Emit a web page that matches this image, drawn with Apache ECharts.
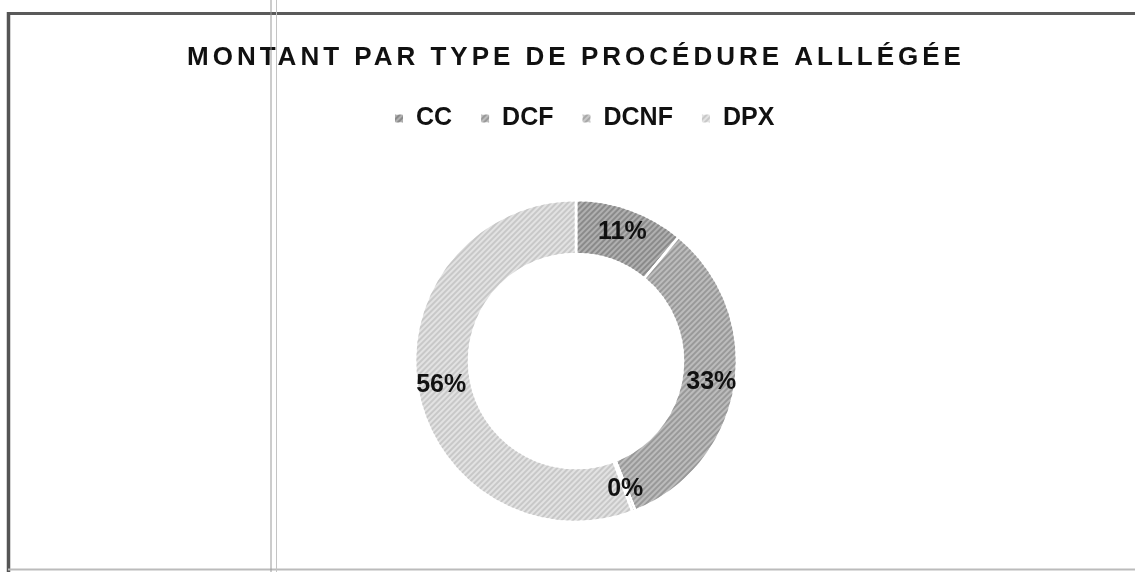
<!DOCTYPE html>
<html>
<head>
<meta charset="utf-8">
<script src="https://cdn.jsdelivr.net/npm/echarts@6/dist/echarts.min.js"></script>
<style>
html,body{margin:0;padding:0;background:#fff;}
#chart{width:1135px;height:572px;}
</style>
</head>
<body>
<div id="chart"></div>
<script>
const TITLE = 'MONTANT PAR TYPE DE PROCÉDURE ALLLÉGÉE';
const categories = ['CC', 'DCF', 'DCNF', 'DPX'];
const values = [11, 33, 0.3, 55.7];
const baseColors = ['#b0b0b0', '#bcbcbc', '#c8c8c8', '#e2e2e2'];
const stripeColors = ['#8a8a8a', '#999999', '#a8a8a8', '#c8c8c8'];

// letter spacing for the title (canvas letterSpacing)
const TITLE_LS = 4;
const origFill = CanvasRenderingContext2D.prototype.fillText;
CanvasRenderingContext2D.prototype.fillText = function (t, x, y, w) {
  if (t === TITLE) {
    this.save();
    this.letterSpacing = TITLE_LS + 'px';
    origFill.call(this, t, x, y);
    this.restore();
  } else {
    if (w === undefined) origFill.call(this, t, x, y); else origFill.call(this, t, x, y, w);
  }
};

const FONT = "'Liberation Sans', Arial, sans-serif";
const chart = echarts.init(document.getElementById('chart'), null, {renderer: 'canvas'});

const data = categories.map((c, i) => ({
  name: c,
  value: values[i],
  itemStyle: {
    color: baseColors[i],
    decal: {
      symbol: 'rect',
      symbolSize: 1,
      dashArrayX: [1, 0],
      dashArrayY: [1.2, 2],
      rotation: -Math.PI / 4,
      color: stripeColors[i]
    }
  }
}));

chart.setOption({
  backgroundColor: '#fff',
  animation: false,
  title: {
    text: TITLE,
    left: 182,
    top: 40,
    textStyle: {fontFamily: FONT, fontSize: 26, fontWeight: 'bold', color: '#111'}
  },
  legend: {
    data: categories,
    top: 101,
    left: 388,
    itemWidth: 10,
    itemHeight: 10,
    itemGap: 27,
    icon: 'rect',
    textStyle: {fontFamily: FONT, fontSize: 25, fontWeight: 'bold', color: '#111', padding: [0, 0, 0, 7]}
  },
  series: [{
    type: 'pie',
    center: [576, 361],
    radius: [107, 161],
    startAngle: 90,
    clockwise: true,
    avoidLabelOverlap: false,
    data: data,
    itemStyle: {borderColor: '#fff', borderWidth: 2.5},
    label: {
      show: true,
      position: 'inside',
      formatter: p => Math.round(p.percent) + '%',
      fontFamily: FONT,
      fontSize: 25,
      fontWeight: 'bold',
      color: '#111'
    },
    labelLine: {show: false},
    emphasis: {disabled: true}
  }],
  graphic: [
    {type: 'line', z: 100, shape: {x1: 8, y1: 13.5, x2: 1135, y2: 13.5}, style: {stroke: '#5a5a5a', lineWidth: 3}},
    {type: 'line', z: 100, shape: {x1: 8.5, y1: 12, x2: 8.5, y2: 572}, style: {stroke: '#555', lineWidth: 3.5}},
    {type: 'line', z: 100, shape: {x1: 8, y1: 569.5, x2: 1135, y2: 569.5}, style: {stroke: '#bbb', lineWidth: 2}},
    {type: 'line', z: 100, shape: {x1: 271, y1: 0, x2: 271, y2: 572}, style: {stroke: '#9a9a9a', lineWidth: 1}},
    {type: 'line', z: 100, shape: {x1: 276.5, y1: 0, x2: 276.5, y2: 572}, style: {stroke: '#c4c4c4', lineWidth: 1}}
  ]
});
</script>
</body>
</html>
